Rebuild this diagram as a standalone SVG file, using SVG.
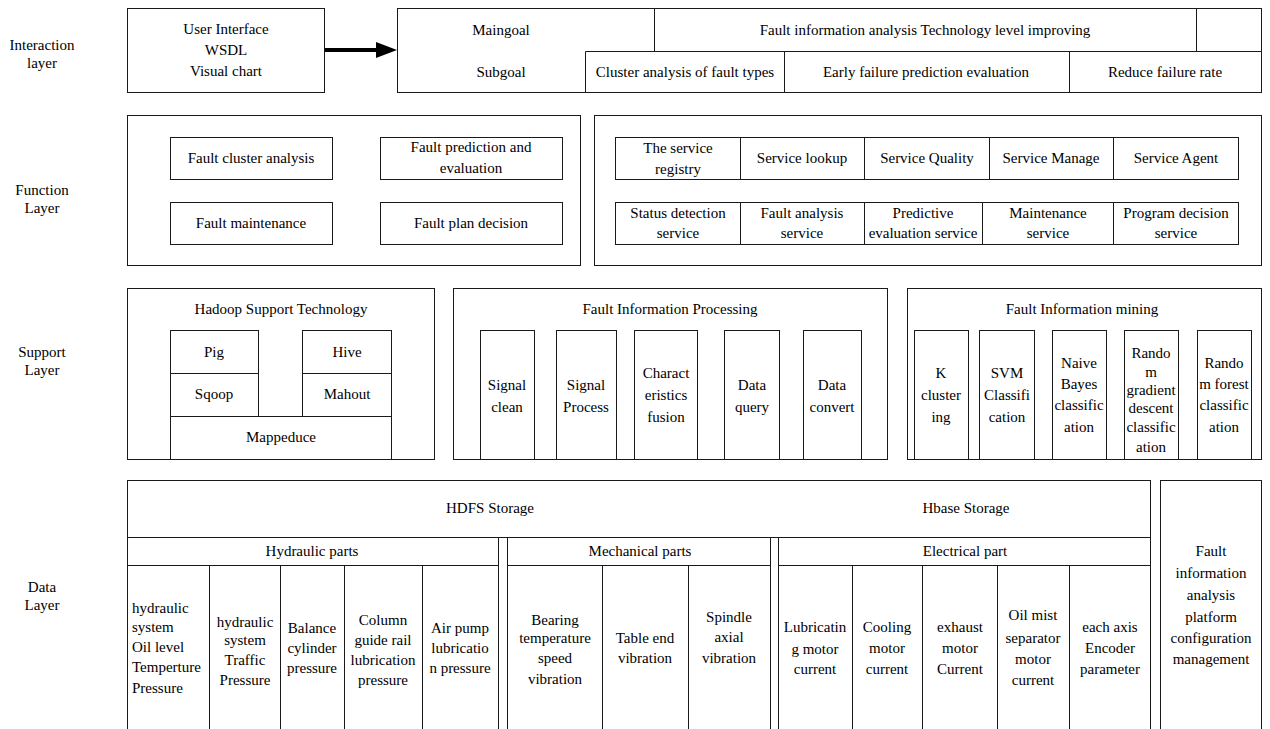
<svg xmlns="http://www.w3.org/2000/svg" width="1270" height="729" viewBox="0 0 1270 729">
<style>
.b{fill:none;stroke:#1a1a1a;stroke-width:1}
.t{font-family:"Liberation Serif","Times New Roman",serif;font-size:15px;fill:#000;text-anchor:middle}
.l{text-anchor:start}
</style>
<rect width="1270" height="729" fill="#fff"/>

<g id="layer-labels">
<text class="t" x="42" y="50">Interaction</text><text class="t" x="42" y="68">layer</text>
<text class="t" x="42" y="195">Function</text><text class="t" x="42" y="213">Layer</text>
<text class="t" x="42" y="357">Support</text><text class="t" x="42" y="375">Layer</text>
<text class="t" x="42" y="592">Data</text><text class="t" x="42" y="610">Layer</text>
</g>

<g id="user-interface">
<rect class="b" x="127.5" y="8.5" width="197" height="84"/>
<text class="t" x="226" y="34">User Interface</text>
<text class="t" x="226" y="55">WSDL</text>
<text class="t" x="226" y="76">Visual chart</text>
</g>

<g id="goals">
<rect class="b" x="397.5" y="8.5" width="864" height="84"/>
<path class="b" d="M654.5 8.5V51.5M1196.5 8.5V51.5M585.5 51.5H1261.5M585.5 51.5V92.5M784.5 51.5V92.5M1069.5 51.5V92.5"/>
<text class="t" x="501" y="35">Maingoal</text>
<text class="t" x="501" y="77">Subgoal</text>
<text class="t" x="925" y="35">Fault information analysis Technology level improving</text>
<text class="t" x="685" y="77">Cluster analysis of fault types</text>
<text class="t" x="926" y="77">Early failure prediction evaluation</text>
<text class="t" x="1165" y="77">Reduce failure rate</text>
</g>

<g id="connectors">
<line x1="325" y1="50" x2="378" y2="50" stroke="#000" stroke-width="4"/>
<polygon points="376,42 397,50 376,58" fill="#000"/>
</g>

<g id="function-left">
<rect class="b" x="127.5" y="115.5" width="453" height="150"/>
<rect class="b" x="170.5" y="137.5" width="162" height="42"/>
<rect class="b" x="380.5" y="137.5" width="182" height="42"/>
<rect class="b" x="170.5" y="202.5" width="162" height="42"/>
<rect class="b" x="380.5" y="202.5" width="182" height="42"/>
<text class="t" x="251" y="163">Fault cluster analysis</text>
<text class="t" x="471" y="152">Fault prediction and</text>
<text class="t" x="471" y="173">evaluation</text>
<text class="t" x="251" y="228">Fault maintenance</text>
<text class="t" x="471" y="228">Fault plan decision</text>
</g>

<g id="function-right">
<rect class="b" x="594.5" y="115.5" width="667" height="150"/>
<rect class="b" x="615.5" y="137.5" width="623" height="42"/>
<path class="b" d="M740.5 137.5V179.5M864.5 137.5V179.5M989.5 137.5V179.5M1113.5 137.5V179.5"/>
<rect class="b" x="615.5" y="202.5" width="623" height="42"/>
<path class="b" d="M740.5 202.5V244.5M864.5 202.5V244.5M982.5 202.5V244.5M1113.5 202.5V244.5"/>
<text class="t" x="678" y="153">The service</text><text class="t" x="678" y="174">registry</text>
<text class="t" x="802" y="163">Service lookup</text>
<text class="t" x="927" y="163">Service Quality</text>
<text class="t" x="1051" y="163">Service Manage</text>
<text class="t" x="1176" y="163">Service Agent</text>
<text class="t" x="678" y="218">Status detection</text><text class="t" x="678" y="238">service</text>
<text class="t" x="802" y="218">Fault analysis</text><text class="t" x="802" y="238">service</text>
<text class="t" x="923" y="218">Predictive</text><text class="t" x="923" y="238">evaluation service</text>
<text class="t" x="1048" y="218">Maintenance</text><text class="t" x="1048" y="238">service</text>
<text class="t" x="1176" y="218">Program decision</text><text class="t" x="1176" y="238">service</text>
</g>

<g id="hadoop">
<rect class="b" x="127.5" y="288.5" width="307" height="171"/>
<text class="t" x="281" y="314">Hadoop Support Technology</text>
<rect class="b" x="170.5" y="330.5" width="88" height="43"/>
<rect class="b" x="170.5" y="373.5" width="88" height="43"/>
<rect class="b" x="302.5" y="330.5" width="89" height="43"/>
<rect class="b" x="302.5" y="373.5" width="89" height="43"/>
<rect class="b" x="170.5" y="416.5" width="221" height="43"/>
<text class="t" x="214" y="357">Pig</text>
<text class="t" x="214" y="399">Sqoop</text>
<text class="t" x="347" y="357">Hive</text>
<text class="t" x="347" y="399">Mahout</text>
<text class="t" x="281" y="442">Mappeduce</text>
</g>

<g id="processing">
<rect class="b" x="453.5" y="288.5" width="434" height="171"/>
<text class="t" x="670" y="314">Fault Information Processing</text>
<rect class="b" x="480.5" y="330.5" width="54" height="129"/>
<rect class="b" x="556.5" y="330.5" width="60" height="129"/>
<rect class="b" x="634.5" y="330.5" width="63" height="129"/>
<rect class="b" x="724.5" y="330.5" width="55" height="129"/>
<rect class="b" x="803.5" y="330.5" width="58" height="129"/>
<text class="t" x="507" y="390">Signal</text><text class="t" x="507" y="412">clean</text>
<text class="t" x="586" y="390">Signal</text><text class="t" x="586" y="412">Process</text>
<text class="t" x="666" y="378">Charact</text><text class="t" x="666" y="400">eristics</text><text class="t" x="666" y="422">fusion</text>
<text class="t" x="752" y="390">Data</text><text class="t" x="752" y="412">query</text>
<text class="t" x="832" y="390">Data</text><text class="t" x="832" y="412">convert</text>
</g>

<g id="mining">
<rect class="b" x="907.5" y="288.5" width="354" height="171"/>
<text class="t" x="1082" y="314">Fault Information mining</text>
<rect class="b" x="914.5" y="330.5" width="54" height="129"/>
<rect class="b" x="979.5" y="330.5" width="55" height="129"/>
<rect class="b" x="1052.5" y="330.5" width="54" height="129"/>
<rect class="b" x="1124.5" y="330.5" width="54" height="129"/>
<rect class="b" x="1197.5" y="330.5" width="54" height="129"/>
<text class="t" x="941" y="378">K</text><text class="t" x="941" y="400">cluster</text><text class="t" x="941" y="422">ing</text>
<text class="t" x="1007" y="378">SVM</text><text class="t" x="1007" y="400">Classifi</text><text class="t" x="1007" y="422">cation</text>
<text class="t" x="1079" y="368">Naive</text><text class="t" x="1079" y="389">Bayes</text><text class="t" x="1079" y="410">classific</text><text class="t" x="1079" y="432">ation</text>
<text class="t" x="1151" y="358">Rando</text><text class="t" x="1151" y="377">m</text><text class="t" x="1151" y="395">gradient</text><text class="t" x="1151" y="413">descent</text><text class="t" x="1151" y="432">classific</text><text class="t" x="1151" y="452">ation</text>
<text class="t" x="1224" y="368">Rando</text><text class="t" x="1224" y="389">m forest</text><text class="t" x="1224" y="410">classific</text><text class="t" x="1224" y="432">ation</text>
</g>

<g id="storage">
<rect class="b" x="127.5" y="480.5" width="1023" height="260"/>
<path class="b" d="M127.5 537.5H1150.5M127.5 565.5H498.5M507.5 565.5H770.5M778.5 565.5H1150.5M498.5 537.5V729M507.5 537.5V729M770.5 537.5V729M778.5 537.5V729"/>
<text class="t" x="490" y="513">HDFS Storage</text>
<text class="t" x="966" y="513">Hbase Storage</text>
</g>

<g id="hydraulic">
<path class="b" d="M209.5 565.5V729M280.5 565.5V729M344.5 565.5V729M422.5 565.5V729"/>
<text class="t" x="312" y="556">Hydraulic parts</text>
<text class="t l" x="132" y="613">hydraulic</text><text class="t l" x="132" y="632">system</text><text class="t l" x="132" y="652">Oil level</text><text class="t l" x="132" y="672">Temperture</text><text class="t l" x="132" y="693">Pressure</text>
<text class="t" x="245" y="627">hydraulic</text><text class="t" x="245" y="645">system</text><text class="t" x="245" y="665">Traffic</text><text class="t" x="245" y="685">Pressure</text>
<text class="t" x="312" y="633">Balance</text><text class="t" x="312" y="653">cylinder</text><text class="t" x="312" y="673">pressure</text>
<text class="t" x="383" y="625">Column</text><text class="t" x="383" y="645">guide rail</text><text class="t" x="383" y="665">lubrication</text><text class="t" x="383" y="685">pressure</text>
<text class="t" x="460" y="633">Air pump</text><text class="t" x="460" y="653">lubricatio</text><text class="t" x="460" y="673">n pressure</text>
</g>

<g id="mechanical">
<path class="b" d="M602.5 565.5V729M688.5 565.5V729"/>
<text class="t" x="640" y="556">Mechanical parts</text>
<text class="t" x="555" y="625">Bearing</text><text class="t" x="555" y="643">temperature</text><text class="t" x="555" y="663">speed</text><text class="t" x="555" y="684">vibration</text>
<text class="t" x="645" y="643">Table end</text><text class="t" x="645" y="663">vibration</text>
<text class="t" x="729" y="622">Spindle</text><text class="t" x="729" y="642">axial</text><text class="t" x="729" y="663">vibration</text>
</g>

<g id="electrical">
<path class="b" d="M852.5 565.5V729M922.5 565.5V729M997.5 565.5V729M1069.5 565.5V729"/>
<text class="t" x="965" y="556">Electrical part</text>
<text class="t" x="815" y="632">Lubricatin</text><text class="t" x="815" y="654">g motor</text><text class="t" x="815" y="674">current</text>
<text class="t" x="887" y="632">Cooling</text><text class="t" x="887" y="653">motor</text><text class="t" x="887" y="674">current</text>
<text class="t" x="960" y="632">exhaust</text><text class="t" x="960" y="653">motor</text><text class="t" x="960" y="674">Current</text>
<text class="t" x="1033" y="620">Oil mist</text><text class="t" x="1033" y="643">separator</text><text class="t" x="1033" y="664">motor</text><text class="t" x="1033" y="685">current</text>
<text class="t" x="1110" y="632">each axis</text><text class="t" x="1110" y="653">Encoder</text><text class="t" x="1110" y="674">parameter</text>
</g>

<g id="platform-config">
<rect class="b" x="1160.5" y="480.5" width="101" height="260"/>
<text class="t" x="1211" y="556">Fault</text>
<text class="t" x="1211" y="578">information</text>
<text class="t" x="1211" y="600">analysis</text>
<text class="t" x="1211" y="622">platform</text>
<text class="t" x="1211" y="643">configuration</text>
<text class="t" x="1211" y="664">management</text>
</g>
</svg>
